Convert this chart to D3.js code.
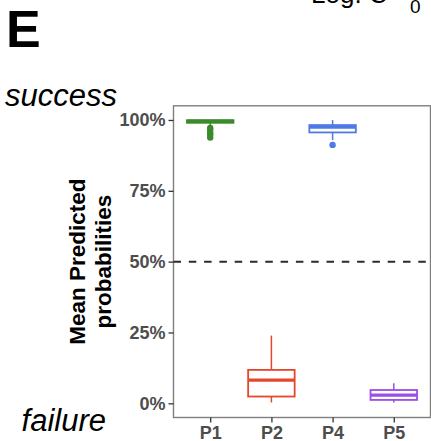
<!DOCTYPE html>
<html><head><meta charset="utf-8">
<script src="https://cdn.jsdelivr.net/npm/d3@7"></script>
<style>body{margin:0;background:#fff}svg{display:block}text{font-family:"Liberation Sans",Arial,sans-serif}</style>
</head><body>
<script>
const categories = ["P1","P2","P4","P5"];
const lowerWhisker = [0.980, 0.003, 0.929, 0.003];
const q1 = [0.990, 0.024, 0.956, 0.012];
const median = [0.996, 0.082, 0.975, 0.029];
const q3 = [0.999, 0.118, 0.982, 0.047];
const upperWhisker = [1.0, 0.239, 0.9995, 0.071];
const outliers = [[0.972, 0.966, 0.955, 0.949, 0.938], [], [0.912], []];
const colors = ["#3b8a2b", "#e5472b", "#4f7ae6", "#9a4de8"];
const yTicks = [0, 0.25, 0.5, 0.75, 1];
const yTickLabels = ["0%", "25%", "50%", "75%", "100%"];
const refLine = 0.5;

(function () {
const W = 431, H = 441;
const svg = d3.select("body").append("svg").attr("width", W).attr("height", H);
const pL = 173.5, pR = 430.5, pT = 105.8, pB = 417.5;

const x = d3.scalePoint().domain(categories).range([pL, pR]).padding(0.6);
const y = d3.scaleLinear().domain([-0.05, 1.05]).range([pB, pT]);
const bw = x.step() * 0.76;

svg.append("rect").attr("x", pL).attr("y", pT).attr("width", pR - pL).attr("height", pB - pT)
  .attr("fill", "#fff").attr("stroke", "#7f7f7f").attr("stroke-width", 1.4);

const yAxis = svg.append("g").attr("transform", `translate(${pL},0)`)
  .call(d3.axisLeft(y).tickValues(yTicks).tickFormat((d, i) => yTickLabels[i]).tickSize(5).tickPadding(3));
const xAxis = svg.append("g").attr("transform", `translate(0,${pB})`)
  .call(d3.axisBottom(x).tickSize(5).tickPadding(4));
[yAxis, xAxis].forEach(g => {
  g.select(".domain").remove();
  g.selectAll(".tick line").attr("stroke", "#333").attr("stroke-width", 1.3);
  g.selectAll(".tick text").attr("fill", "#4d4d4d").attr("font-size", 18).attr("font-weight", "bold")
    .attr("font-family", '"Liberation Sans",Arial,sans-serif');
});

svg.append("line").attr("x1", pL).attr("x2", pR).attr("y1", y(refLine)).attr("y2", y(refLine))
  .attr("stroke", "#2b2b2b").attr("stroke-width", 2).attr("stroke-dasharray", "7.5,7.8");

const g = svg.append("g");
categories.forEach((c, i) => {
  const cx = x(c), col = colors[i];
  g.append("line").attr("x1", cx).attr("x2", cx).attr("y1", y(q3[i])).attr("y2", y(upperWhisker[i]))
    .attr("stroke", col).attr("stroke-width", 1.5);
  g.append("line").attr("x1", cx).attr("x2", cx).attr("y1", y(q1[i])).attr("y2", y(lowerWhisker[i]))
    .attr("stroke", col).attr("stroke-width", 1.5);
  g.append("rect").attr("x", cx - bw / 2).attr("width", bw)
    .attr("y", y(q3[i])).attr("height", y(q1[i]) - y(q3[i]))
    .attr("fill", "#fff").attr("stroke", col).attr("stroke-width", 1.8);
  g.append("line").attr("x1", cx - bw / 2).attr("x2", cx + bw / 2).attr("y1", y(median[i])).attr("y2", y(median[i]))
    .attr("stroke", col).attr("stroke-width", 3.2);
  outliers[i].forEach(v => {
    g.append("circle").attr("cx", cx).attr("cy", y(v)).attr("r", 3.2).attr("fill", col);
  });
});

svg.append("text").attr("x", 6).attr("y", 47).attr("font-size", 52).attr("font-weight", "bold").text("E");
svg.append("text").attr("x", 311).attr("y", 3).attr("font-size", 26).text("Log. C");
svg.append("text").attr("x", 410).attr("y", 13).attr("font-size", 19).text("0");
svg.append("text").attr("x", 5).attr("y", 106).attr("font-size", 31).attr("font-style", "italic").text("success");
svg.append("text").attr("x", 106).attr("y", 431).attr("font-size", 31).attr("font-style", "italic")
  .attr("text-anchor", "end").text("failure");
const yt = svg.append("text").attr("transform", `translate(0,${y(0.5)}) rotate(-90)`)
  .attr("text-anchor", "middle").attr("font-size", 22.5).attr("font-weight", "bold");
yt.append("tspan").attr("x", 0).attr("y", 85).text("Mean Predicted");
yt.append("tspan").attr("x", 0).attr("y", 111).text("probabilities");
})();
</script>
</body></html>
